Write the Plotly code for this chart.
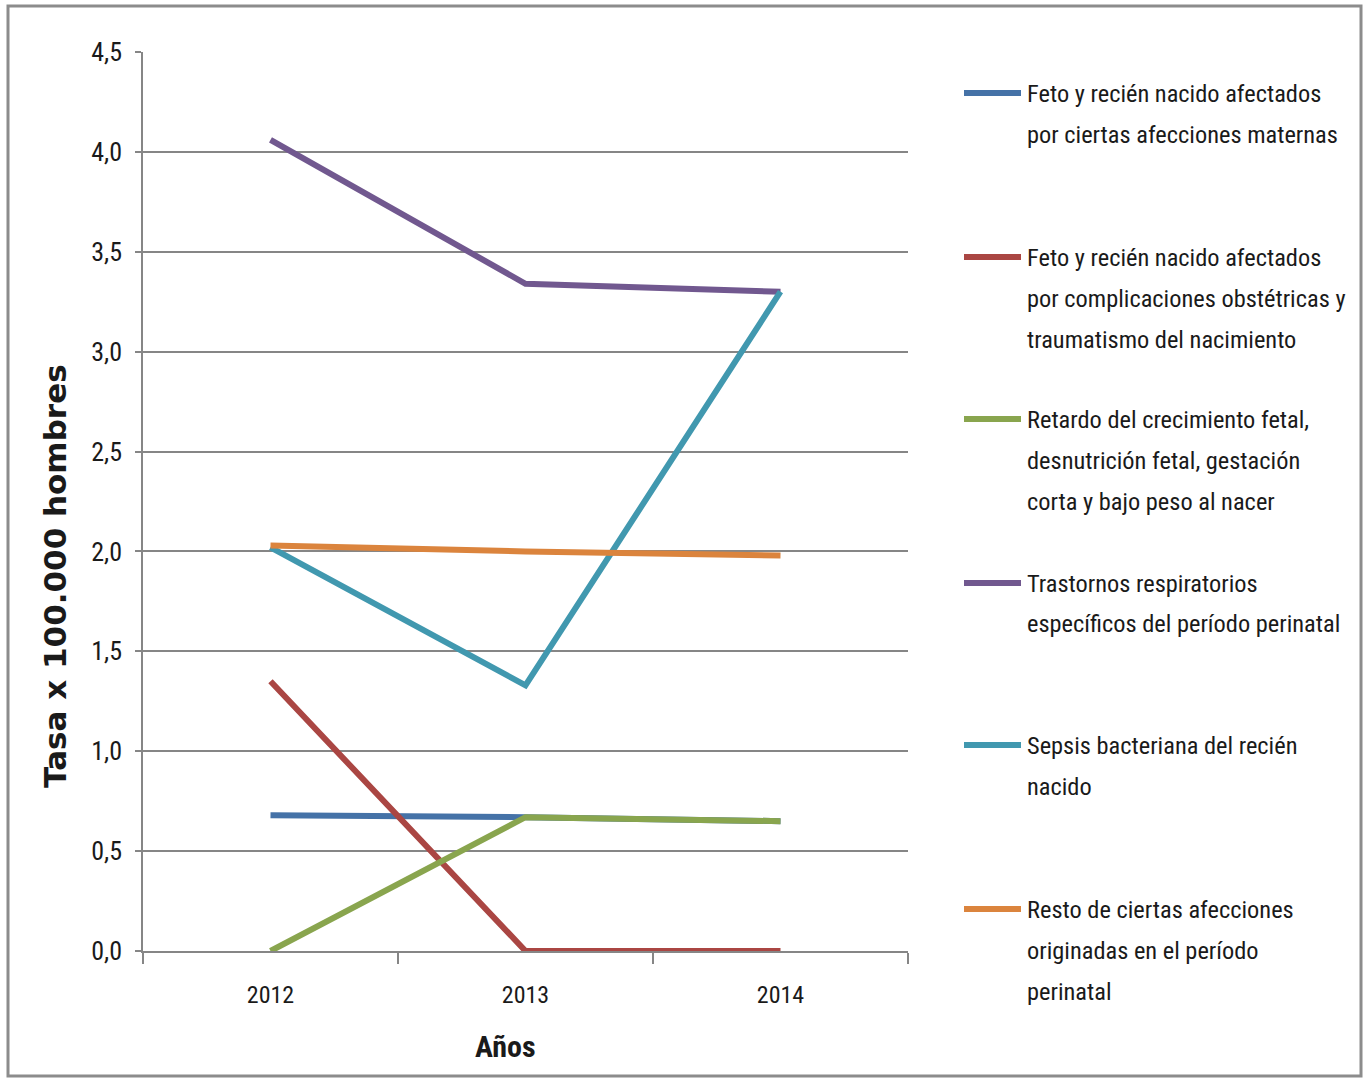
import plotly.graph_objects as go

# ---------------- data ----------------
years = ["2012", "2013", "2014"]

series_names = [
    "Feto y recién nacido afectados\npor ciertas afecciones maternas",
    "Feto y recién nacido afectados\npor complicaciones obstétricas y\ntraumatismo del nacimiento",
    "Retardo del crecimiento fetal,\ndesnutrición fetal, gestación\ncorta y bajo peso al nacer",
    "Trastornos respiratorios\nespecíficos del período perinatal",
    "Sepsis bacteriana del recién\nnacido",
    "Resto de ciertas afecciones\noriginadas en el período\nperinatal",
]

afecciones_maternas = [0.68, 0.67, 0.65]
complicaciones_obstetricas = [1.35, 0.0, 0.0]
retardo_crecimiento = [0.0, 0.67, 0.65]
trastornos_respiratorios = [4.06, 3.34, 3.30]
sepsis_bacteriana = [2.02, 1.33, 3.30]
resto_afecciones = [2.03, 2.00, 1.98]

series_values = [
    afecciones_maternas,
    complicaciones_obstetricas,
    retardo_crecimiento,
    trastornos_respiratorios,
    sepsis_bacteriana,
    resto_afecciones,
]

colors = ["#4572A7", "#AA4643", "#89A54E", "#71588F", "#4198AF", "#DB843D"]

y_title = "Tasa x 100.000 hombres"
x_title = "Años"

# ---------------- layout geometry ----------------
W, H = 1364, 1079
PL, PR, PT, PB = 143, 908, 52, 951  # plot area in pixels


def px2x(px):
    return (px - PL) / (PR - PL)


def py2y(py):
    return (PB - py) / (PB - PT)


NARROW = "Roboto Condensed, Liberation Sans Narrow, Arial Narrow, sans-serif"
TXT = "#1a1a1a"
GRID = "#868686"

fig = go.Figure()
for name, vals, col in zip(series_names, series_values, colors):
    fig.add_trace(go.Scatter(
        x=years, y=vals, mode="lines", name=name.replace("\n", " "),
        line=dict(color=col, width=6), showlegend=False,
    ))

shapes = []
annotations = []

# outer border
shapes.append(dict(type="rect", xref="paper", yref="paper",
                   x0=px2x(8), x1=px2x(1361), y0=py2y(1076), y1=py2y(6),
                   line=dict(color="#8c8c8c", width=3), layer="below"))

# manual legend
entry_y = [93, 257, 419, 583, 745, 909]
line_gap = 41
for name, col, ey in zip(series_names, colors, entry_y):
    shapes.append(dict(type="line", xref="paper", yref="paper",
                       x0=px2x(964), x1=px2x(1021), y0=py2y(ey), y1=py2y(ey),
                       line=dict(color=col, width=6)))
    for i, ln in enumerate(name.split("\n")):
        annotations.append(dict(
            xref="paper", yref="paper", x=px2x(1025), y=py2y(ey + i * line_gap),
            text=ln, showarrow=False, xanchor="left", yanchor="middle",
            font=dict(family=NARROW, size=24.4, color=TXT),
        ))

# axis titles
annotations.append(dict(
    xref="paper", yref="paper", x=px2x(55), y=py2y(576), text="<b>" + y_title + "</b>",
    textangle=-90, showarrow=False, xanchor="center", yanchor="middle",
    font=dict(family="DejaVu Sans, Verdana, sans-serif", size=31, color=TXT),
))
annotations.append(dict(
    xref="paper", yref="paper", x=px2x(505), y=py2y(1046), text="<b>" + x_title + "</b>",
    showarrow=False, xanchor="center", yanchor="middle",
    font=dict(family=NARROW, size=30, color=TXT),
))

fig.update_layout(
    width=W, height=H,
    margin=dict(l=PL, r=W - PR, t=PT, b=H - PB, pad=0),
    paper_bgcolor="white", plot_bgcolor="white",
    separators=",.",
    shapes=shapes, annotations=annotations,
    xaxis=dict(
        type="category", range=[-0.5, 2.5], tickson="boundaries",
        ticks="outside", ticklen=11, tickcolor=GRID, tickwidth=1.5,
        showline=True, linecolor=GRID, linewidth=1.5, showgrid=False,
        tickfont=dict(family=NARROW, size=24, color=TXT),
        ticklabelstandoff=21,
    ),
    yaxis=dict(
        range=[0, 4.5], dtick=0.5, tick0=0, tickformat=".1f",
        ticks="outside", ticklen=6, tickcolor=GRID, tickwidth=1.5,
        showline=True, linecolor=GRID, linewidth=1.5,
        showgrid=True, gridcolor=GRID, gridwidth=1.5, zeroline=False,
        tickfont=dict(family=NARROW, size=26, color=TXT),
        ticklabelstandoff=8,
    ),
)

fig.write_html("out.html", config={"displayModeBar": False},
               post_script="document.body.style.margin='0px';")
